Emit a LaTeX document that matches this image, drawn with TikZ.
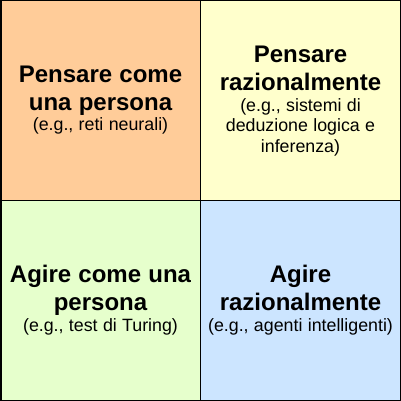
\documentclass[tikz,border=0pt]{standalone}
\usepackage{fontspec}
\setmainfont{Liberation Sans}
\definecolor{cTL}{HTML}{FFCC99}
\definecolor{cTR}{HTML}{FFFFCC}
\definecolor{cBL}{HTML}{E6FFCC}
\definecolor{cBR}{HTML}{CCE5FF}
\newcommand{\ttl}[1]{{\fontsize{24}{28}\selectfont\bfseries\spaceskip=0.3em #1\par}}
\newcommand{\sub}[1]{{\fontsize{17.8}{20.5}\selectfont\spaceskip=0.3em #1\par}}
\begin{document}
\begin{tikzpicture}[x=1pt,y=-1pt,
  cell/.style={draw=black,line width=1.5pt,minimum width=199.75pt,minimum height=199.75pt,inner sep=0pt,outer sep=0pt},
  txt/.style={text width=198pt,align=center,inner sep=0pt}]
\useasboundingbox (0,0) rectangle (401,401);
\node[cell,fill=cTL] (tl) at (100.625,100.625) {};
\node[cell,fill=cTR] (tr) at (300.375,100.625) {};
\node[cell,fill=cBL] (bl) at (100.625,300.375) {};
\node[cell,fill=cBR] (br) at (300.375,300.375) {};
\node[txt] (ttl) at (100.5,100) {\ttl{Pensare come\\una persona}\sub{(e.g., reti neurali)}};
\node[txt] (ttr) at (300.5,101) {\ttl{Pensare\\razionalmente}\sub{(e.g., sistemi di\\deduzione logica e\\inferenza)}};
\node[txt] (tbl) at (100.5,300) {\ttl{Agire come una\\persona}\sub{(e.g., test di Turing)}};
\node[txt] (tbr) at (300.5,300) {\ttl{Agire\\razionalmente}\sub{(e.g., agenti intelligenti)}};
\end{tikzpicture}
\end{document}
